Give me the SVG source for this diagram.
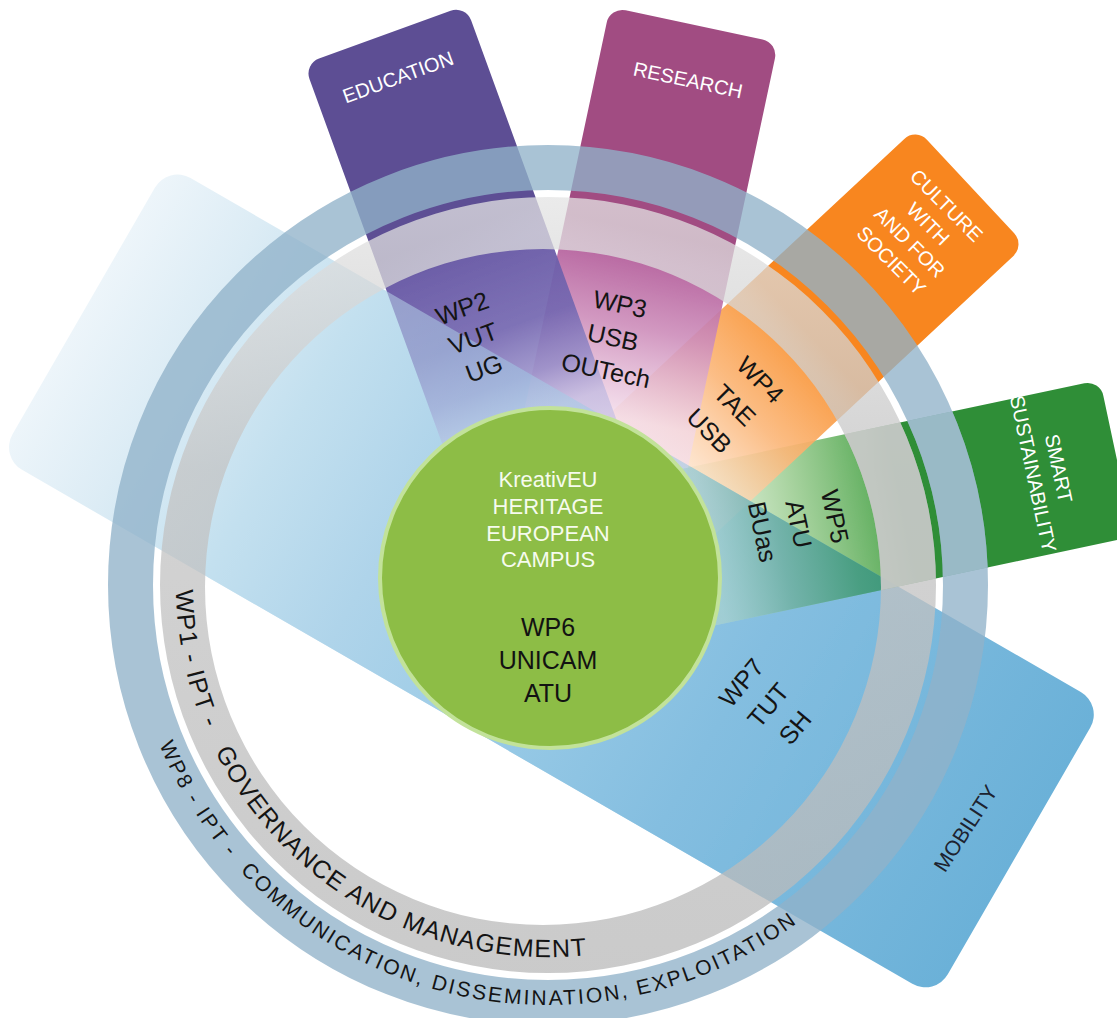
<svg xmlns="http://www.w3.org/2000/svg" width="1117" height="1018" viewBox="0 0 1117 1018">
<style>
  text { font-family: "Liberation Sans", Arial, sans-serif; }
  .tabt { font-size: 20px; fill: #ffffff; text-anchor: middle; }
  .lbl { font-size: 25px; fill: #141414; text-anchor: middle; }
  .mob { font-size: 21px; fill: #1d2330; text-anchor: middle; }
  .ttl { font-size: 22px; fill: #f6fbee; text-anchor: middle; }
  .wp6 { font-size: 25px; fill: #121212; text-anchor: middle; }
  .r1 { font-size: 25px; fill: #141414; }
  .r8 { font-size: 21px; fill: #141414; }
</style>
<defs>
  <linearGradient id="gBand" gradientUnits="userSpaceOnUse" x1="0" y1="0" x2="1080" y2="0">
    <stop offset="0" stop-color="#edf5fa"/>
    <stop offset="0.1" stop-color="#dcecf5"/>
    <stop offset="0.22" stop-color="#c3e0ef"/>
    <stop offset="0.35" stop-color="#afd4ea"/>
    <stop offset="0.55" stop-color="#95c8e5"/>
    <stop offset="0.7" stop-color="#84bee0"/>
    <stop offset="1" stop-color="#6bb1d8"/>
  </linearGradient>
  <linearGradient id="gEdu" gradientUnits="userSpaceOnUse" x1="0" y1="0" x2="0" y2="567">
    <stop offset="0" stop-color="#5d4e94"/>
    <stop offset="0.37" stop-color="#5d4e94"/>
    <stop offset="0.42" stop-color="#6a5ba6" stop-opacity="0.97"/>
    <stop offset="0.56" stop-color="#7467b0" stop-opacity="0.92"/>
    <stop offset="0.65" stop-color="#9389c6" stop-opacity="0.85"/>
    <stop offset="0.72" stop-color="#c0b9e0" stop-opacity="0.75"/>
    <stop offset="1" stop-color="#e6e2f4" stop-opacity="0.6"/>
  </linearGradient>
  <linearGradient id="gRes" gradientUnits="userSpaceOnUse" x1="0" y1="0" x2="0" y2="571">
    <stop offset="0" stop-color="#a14c82"/>
    <stop offset="0.37" stop-color="#a14c82"/>
    <stop offset="0.42" stop-color="#b5629d" stop-opacity="0.95"/>
    <stop offset="0.54" stop-color="#cd8dba" stop-opacity="0.9"/>
    <stop offset="0.7" stop-color="#f2d8e8" stop-opacity="0.75"/>
    <stop offset="1" stop-color="#fbeff6" stop-opacity="0.6"/>
  </linearGradient>
  <linearGradient id="gCul" gradientUnits="userSpaceOnUse" x1="0" y1="0" x2="0" y2="575">
    <stop offset="0" stop-color="#f8861f"/>
    <stop offset="0.38" stop-color="#f8861f"/>
    <stop offset="0.42" stop-color="#f99a42" stop-opacity="0.95"/>
    <stop offset="0.55" stop-color="#fbb678" stop-opacity="0.9"/>
    <stop offset="0.7" stop-color="#fde0c6" stop-opacity="0.75"/>
    <stop offset="1" stop-color="#fff2e6" stop-opacity="0.6"/>
  </linearGradient>
  <linearGradient id="gSus" gradientUnits="userSpaceOnUse" x1="0" y1="0" x2="0" y2="579">
    <stop offset="0" stop-color="#2f8e37"/>
    <stop offset="0.38" stop-color="#2f8e37"/>
    <stop offset="0.42" stop-color="#5aab58" stop-opacity="0.95"/>
    <stop offset="0.56" stop-color="#9ccd92" stop-opacity="0.88"/>
    <stop offset="0.7" stop-color="#d4ebcd" stop-opacity="0.75"/>
    <stop offset="1" stop-color="#eef7ea" stop-opacity="0.6"/>
  </linearGradient>
  <linearGradient id="gTeal" gradientUnits="userSpaceOnUse" x1="0" y1="0" x2="0" y2="579">
    <stop offset="0" stop-color="#3a9677"/>
    <stop offset="0.4" stop-color="#3a9677"/>
    <stop offset="0.48" stop-color="#479d80" stop-opacity="0.95"/>
    <stop offset="0.6" stop-color="#6dafa6" stop-opacity="0.85"/>
    <stop offset="0.72" stop-color="#9ccbcf" stop-opacity="0.6"/>
    <stop offset="1" stop-color="#b8dbe6" stop-opacity="0.3"/>
  </linearGradient>
  <linearGradient id="gGray" gradientUnits="userSpaceOnUse" x1="0" y1="197" x2="0" y2="973">
    <stop offset="0" stop-color="#e4e4e4"/>
    <stop offset="0.35" stop-color="#c4c4c4"/>
    <stop offset="1" stop-color="#b9b9b9"/>
  </linearGradient>
  <clipPath id="disc">
    <circle cx="545" cy="586" r="338"/>
  </clipPath>
  <clipPath id="bandClip">
    <rect transform="translate(168,165) rotate(30)" x="0" y="0" width="1080" height="337" rx="26"/>
  </clipPath>
  <clipPath id="susClip">
    <rect transform="translate(1100,380) rotate(78)" x="0" y="0" width="160" height="579" rx="16"/>
  </clipPath>
  <path id="pWP1" d="M 176.2,572 A 372 372 0 0 0 734,907.2"/>
  <path id="pWP8" d="M 153.3,728.6 A 420 420 0 0 0 869.7,855"/>
  <path id="grayRing" fill-rule="evenodd" d="M 160,585 A 388 388 0 1 0 936,585 A 388 388 0 1 0 160,585 Z M 205,587 A 338 338 0 1 0 881,587 A 338 338 0 1 0 205,587 Z"/>
</defs>

<rect x="0" y="0" width="1117" height="1018" fill="#ffffff"/>

<g id="mobility">
  <rect transform="translate(168,165) rotate(30)" x="0" y="0" width="1080" height="337" rx="26" fill="url(#gBand)"/>
</g>

<g id="smart-sustainability">
  <rect transform="translate(1100,380) rotate(78)" x="0" y="0" width="160" height="579" rx="16" fill="url(#gSus)"/>
</g>
<g id="culture">
  <rect transform="translate(916,128) rotate(47)" x="0" y="0" width="160" height="575" rx="16" fill="url(#gCul)"/>
</g>
<g id="research">
  <rect transform="translate(610,7) rotate(12)" x="0" y="0" width="172" height="571" rx="16" fill="url(#gRes)"/>
</g>
<g id="education">
  <rect transform="translate(304,64) rotate(-20)" x="0" y="0" width="172" height="567" rx="16" fill="url(#gEdu)"/>
</g>

<g id="mobility-overlay" clip-path="url(#disc)" opacity="0.5">
  <rect transform="translate(168,165) rotate(30)" x="0" y="0" width="1080" height="337" rx="26" fill="url(#gBand)"/>
</g>
<g id="sustainability-mobility-overlap" clip-path="url(#bandClip)">
  <rect transform="translate(1100,380) rotate(78)" x="0" y="0" width="160" height="579" rx="16" fill="url(#gTeal)"/>
</g>

<g id="wp8-ring">
  <circle cx="548" cy="585" r="417.5" fill="none" stroke="#91b2c9" stroke-width="45" opacity="0.78"/>
</g>
<g id="wp1-ring">
  <use href="#grayRing" fill="url(#gGray)" opacity="0.75"/>
</g>
<g id="rings-over-green" clip-path="url(#susClip)">
  <circle cx="548" cy="585" r="417.5" fill="none" stroke="#a6c1d3" stroke-width="45" opacity="0.7"/>
  <use href="#grayRing" fill="#cbcbcb" opacity="0.7"/>
</g>

<g id="wp6-center">
  <circle cx="550" cy="578" r="170" fill="#8dbd46" stroke="#c2e29a" stroke-width="4"/>
  <text class="ttl" x="548" y="487">KreativEU</text>
  <text class="ttl" x="548" y="514">HERITAGE</text>
  <text class="ttl" x="548" y="541">EUROPEAN</text>
  <text class="ttl" x="548" y="567">CAMPUS</text>
  <text class="wp6" x="548" y="636">WP6</text>
  <text class="wp6" x="548" y="669">UNICAM</text>
  <text class="wp6" x="548" y="702">ATU</text>
</g>

<g id="labels-tabs">
  <text class="tabt" transform="translate(398,77) rotate(-20)" y="7">EDUCATION</text>
  <text class="tabt" transform="translate(688,80) rotate(12)" y="7">RESEARCH</text>
  <g transform="translate(919,233) rotate(45)">
    <text class="tabt" y="-32">CULTURE</text>
    <text class="tabt" y="-6">WITH</text>
    <text class="tabt" y="20">AND FOR</text>
    <text class="tabt" y="46">SOCIETY</text>
  </g>
  <g transform="translate(1046,471) rotate(78)">
    <text class="tabt" y="-6">SMART</text>
    <text class="tabt" y="20">SUSTAINABILITY</text>
  </g>
  <text class="mob" transform="translate(965,828) rotate(-57)" y="8">MOBILITY</text>
</g>

<g id="labels-wp">
  <g transform="translate(473,338) rotate(-20)">
    <text class="lbl" y="-23">WP2</text>
    <text class="lbl" y="9">VUT</text>
    <text class="lbl" y="41">UG</text>
  </g>
  <g transform="translate(613,337) rotate(12)">
    <text class="lbl" y="-25">WP3</text>
    <text class="lbl" y="9">USB</text>
    <text class="lbl" y="43">OUTech</text>
  </g>
  <g transform="translate(735,405) rotate(45)">
    <text class="lbl" y="-27">WP4</text>
    <text class="lbl" y="9">TAE</text>
    <text class="lbl" y="45">USB</text>
  </g>
  <g transform="translate(799,524) rotate(78)">
    <text class="lbl" y="-28">WP5</text>
    <text class="lbl" y="9">ATU</text>
    <text class="lbl" y="46">BUas</text>
  </g>
  <g transform="translate(768,705) rotate(-50)">
    <text class="lbl" y="-26">WP7</text>
    <text class="lbl" y="9">TUT</text>
    <text class="lbl" y="44">SH</text>
  </g>
  <text class="r1"><textPath href="#pWP1" startOffset="18" textLength="618" lengthAdjust="spacing">WP1 - IPT -&#160;&#160; GOVERNANCE AND MANAGEMENT</textPath></text>
  <text class="r8"><textPath href="#pWP8" startOffset="17" textLength="762" lengthAdjust="spacing">WP8 - IPT -&#160; COMMUNICATION, DISSEMINATION, EXPLOITATION</textPath></text>
</g>

<g id="connectors"></g>
</svg>
